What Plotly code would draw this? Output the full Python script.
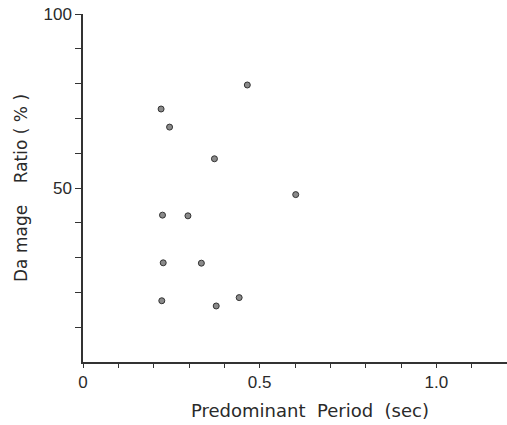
import plotly.graph_objects as go

period = [0.465, 0.221, 0.245, 0.372, 0.602, 0.225, 0.297, 0.227, 0.335, 0.223, 0.442, 0.377]
damage = [79.6, 72.7, 67.5, 58.4, 48.1, 42.2, 42.0, 28.5, 28.4, 17.6, 18.5, 16.1]

x_tickvals = [round(i * 0.1, 1) for i in range(13)]
x_ticktext = ["0", "", "", "", "", "0.5", "", "", "", "", "1.0", "", ""]
y_tickvals = [10, 20, 30, 40, 50, 60, 70, 80, 90, 100]
y_ticktext = ["", "", "", "", "50", "", "", "", "", "100"]

fig = go.Figure()
fig.add_trace(go.Scatter(
    x=period, y=damage, mode="markers",
    marker=dict(size=6, color="#8a8a8a", line=dict(color="#333333", width=1)),
    showlegend=False, cliponaxis=False,
))

font = dict(family="DejaVu Sans, sans-serif", size=17, color="#2a2a2a")
tickfont = dict(family="Liberation Sans, Arial, sans-serif", size=17, color="#2a2a2a")
fig.update_layout(
    width=507, height=425,
    margin=dict(l=83, r=0, t=14, b=63),
    paper_bgcolor="white", plot_bgcolor="white",
    font=font,
    xaxis=dict(
        range=[0, 1.2], tickmode="array", tickvals=x_tickvals, ticktext=x_ticktext,
        ticks="outside", ticklen=4, tickcolor="#333", showline=True, linecolor="#333",
        linewidth=1.5, showgrid=False, zeroline=False, tickfont=tickfont,
    ),
    yaxis=dict(
        range=[0, 100], tickmode="array", tickvals=y_tickvals, ticktext=y_ticktext,
        ticks="outside", ticklen=6, tickcolor="#333", showline=True, linecolor="#333",
        linewidth=1.5, showgrid=False, zeroline=False, tickfont=tickfont,
        title=dict(text="Da mage    Ratio ( % )", standoff=12, font=dict(size=17)),
    ),
    annotations=[dict(
        text="Predominant  Period  (sec)", xref="paper", yref="paper",
        x=0.535, y=-0.138, xanchor="center", yanchor="middle",
        showarrow=False, font=dict(size=18),
    )],
)

fig.write_html("out.html")
